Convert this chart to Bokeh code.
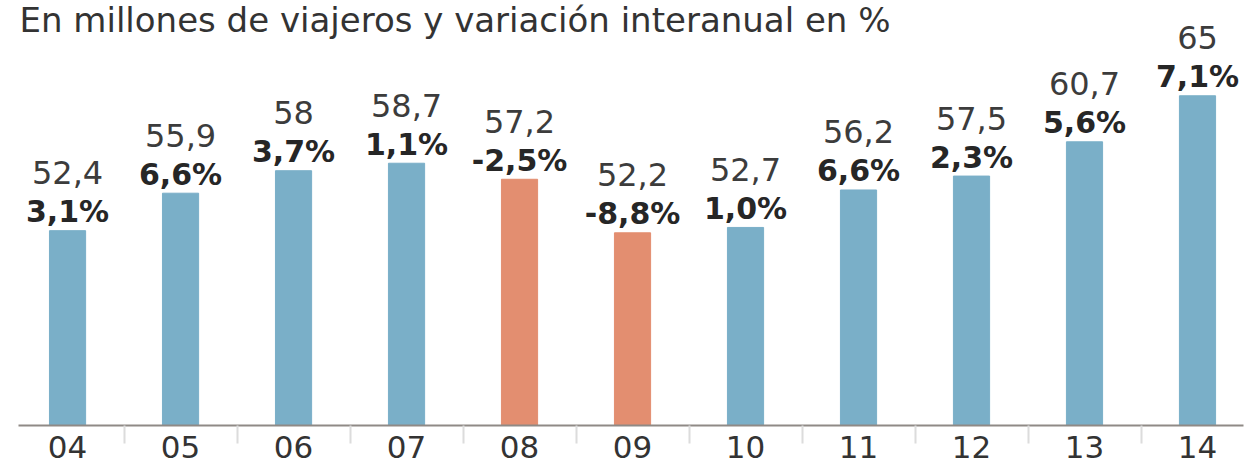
from bokeh.plotting import figure
from bokeh.models import ColumnDataSource, Range1d, FixedTicker, Label
from bokeh.embed import file_html
from bokeh.resources import INLINE
from bokeh.core.properties import value

# ---- data ----
years = ["04", "05", "06", "07", "08", "09", "10", "11", "12", "13", "14"]
travelers = [52.4, 55.9, 58.0, 58.7, 57.2, 52.2, 52.7, 56.2, 57.5, 60.7, 65.0]
change_pct = [3.1, 6.6, 3.7, 1.1, -2.5, -8.8, 1.0, 6.6, 2.3, 5.6, 7.1]
title_text = "En millones de viajeros y variación interanual en %"

BLUE = "#7aafc8"
ORANGE = "#e38e70"
FONT = "DejaVu Sans"

idx = list(range(len(years)))
src = ColumnDataSource(dict(
    x=idx,
    top=travelers,
    color=[ORANGE if c < 0 else BLUE for c in change_pct],
    vlab=[("%g" % v).replace(".", ",") for v in travelers],
    plab=[("%.1f%%" % c).replace(".", ",") for c in change_pct],
))

Y0, Y1 = 34.2, 73.9
W, H = 1250, 466
p = figure(width=W, height=H, output_backend="svg", toolbar_location=None,
           x_range=Range1d(-0.434, 10.407), y_range=Range1d(Y0, Y1),
           min_border_left=18, min_border_right=7, min_border_top=0,
           min_border_bottom=41,
           background_fill_color="white", border_fill_color="white")
p.outline_line_color = None
p.xgrid.visible = False
p.ygrid.visible = False
p.yaxis.visible = False

p.vbar(x="x", top="top", bottom=Y0, width=0.32, color="color", source=src)

p.text(x="x", y="top", text="plab", source=src, text_align="center",
       text_baseline="alphabetic", y_offset=-19,
       text_font=value(FONT), text_font_style="bold",
       text_font_size="30px", text_color="#262626")
p.text(x="x", y="top", text="vlab", source=src, text_align="center",
       text_baseline="alphabetic", y_offset=-58,
       text_font=value(FONT),
       text_font_size="32px", text_color="#3c3c3c")

ax = p.xaxis[0]
ax.ticker = FixedTicker(ticks=idx, minor_ticks=[i + 0.5 for i in idx[:-1]])
ax.major_label_overrides = {i: y for i, y in zip(idx, years)}
ax.major_tick_line_color = None
ax.major_tick_out = 0
ax.major_tick_in = 0
ax.minor_tick_line_color = "#dcdcdc"
ax.minor_tick_line_width = 2
ax.minor_tick_out = 18
ax.minor_tick_in = 0
ax.axis_line_color = "#8f8a86"
ax.axis_line_width = 2
ax.major_label_standoff = -8
ax.major_label_text_font = FONT
ax.major_label_text_font_size = "31px"
ax.major_label_text_color = "#333333"

p.add_layout(Label(x=1, y=Y1, x_units="screen", y_units="data", y_offset=-19,
                   text=title_text, text_font=FONT, text_font_size="34px",
                   text_color="#333333", text_baseline="alphabetic"))

open("out.html", "w").write(file_html(p, INLINE))
